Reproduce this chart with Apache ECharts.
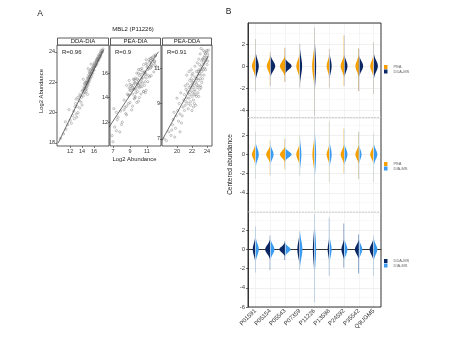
<!DOCTYPE html>
<html><head><meta charset="utf-8">
<script src="https://cdn.jsdelivr.net/npm/echarts@6/dist/echarts.min.js"></script>
<style>html,body{margin:0;padding:0;background:#fff}#c{width:451px;height:337px}</style>
</head><body><div id="c"></div>
<script>
const FONT = 'Liberation Sans, Arial, sans-serif';

// ---------- Panel A: per-sample log2 abundance of MBL2 (P11226) ----------
const ddaLog2 = [18.3,18.6,18.9,19.2,19.4,19.5,19.7,19.8,19.9,20.1,20.2,20.3,20.4,20.5,20.6,20.8,20.9,21.0,21.0,21.1,21.2,21.2,21.3,21.4,21.5,21.5,21.6,21.6,21.7,21.7,21.8,21.8,21.9,21.9,22.0,22.0,22.0,22.1,22.1,22.2,22.2,22.2,22.3,22.3,22.4,22.4,22.5,22.5,22.6,22.6,22.7,22.7,22.8,22.8,22.9,22.9,22.9,23.0,23.0,23.1,23.1,23.2,23.2,23.2,23.2,23.3,23.3,23.4,23.4,23.5,23.5,23.6,23.6,23.7,23.7,23.8,23.8,23.9,23.9,24.0,24.0,24.1,24.2,
  21.3,21.5,21.6,21.8,21.9,22.0,22.1,22.3,22.4,22.5,22.6,22.7,22.8,22.9,23.0,23.1,23.3,23.4,23.5,23.6,23.8,24.1,20.0,20.7,21.1,19.6,19.3,20.4,21.4,22.0,22.3,22.6,22.8,23.1,23.5,23.7,24.0];
const diaLog2 = [10.4,10.9,11.3,11.6,11.2,12.0,13.1,12.4,13.0,12.6,11.8,13.6,13.2,14.0,12.9,13.5,13.0,13.9,13.3,14.2,13.6,14.9,14.3,14.0,14.6,14.1,14.5,14.8,14.3,14.7,14.6,15.0,14.4,14.9,14.7,15.1,14.5,15.2,14.8,15.0,15.3,14.2,14.9,15.4,15.2,15.6,15.1,15.5,15.3,15.8,15.5,15.2,15.7,16.0,15.6,15.9,15.0,16.1,15.8,16.2,15.9,16.3,16.0,15.5,16.5,16.4,16.1,16.5,16.7,16.4,16.8,16.6,16.9,16.7,17.1,17.0,16.8,17.2,17.0,17.3,17.1,17.4,17.5,
  14.5,14.3,14.4,14.8,14.6,15.0,15.0,15.1,15.3,15.4,15.5,15.7,15.4,15.8,16.0,16.1,16.3,16.4,16.6,16.7,17.1,17.2,13.3,13.8,13.7,12.7,12.2,12.8,14.7,14.9,15.2,15.6,15.9,16.3,16.5,16.9,17.4];
const peaLog2 = [7.0,6.9,7.4,7.2,7.8,8.1,7.1,7.6,8.3,8.6,8.0,9.0,8.4,9.6,7.9,8.8,9.2,9.5,8.6,8.9,9.8,9.1,9.3,10.1,9.0,9.6,9.9,9.3,10.3,9.5,9.1,10.0,9.7,10.4,9.4,9.9,10.6,9.6,10.1,9.2,10.3,8.8,9.8,10.0,10.5,9.7,10.2,9.5,10.8,10.1,10.4,9.9,10.6,10.0,10.9,10.3,9.4,10.7,11.2,10.4,10.9,11.1,10.6,9.9,12.1,11.4,10.8,11.0,11.5,11.2,10.9,11.6,11.3,11.0,11.7,11.4,11.8,11.5,11.9,11.6,11.2,11.8,12.0,
  10.6,8.7,10.8,8.9,10.9,8.6,10.7,9.0,11.1,8.9,9.4,11.3,9.6,11.5,9.8,11.8,10.2,10.4,12.0,10.6,10.9,11.4,9.3,8.3,10.0,8.5,7.5,7.4,9.7,10.2,9.5,10.4,10.8,10.0,11.5,11.9,12.0];
const panelATitles = ['DDA-DIA', 'PEA-DIA', 'PEA-DDA'];
const panelARLabels = ['R=0.96', 'R=0.9', 'R=0.91'];
const fitDdaDia = [[10.0, 18.0], [17.6, 24.15]];
const fitPeaDia = [[6.55, 11.6], [12.35, 17.75]];
const fitPeaDda = [[18.0, 6.92], [24.2, 11.7]];
const xTicksA = [[12, 14, 16], [7, 9, 11], [20, 22, 24]];
const yTicksA = [[18, 20, 22, 24], [12, 14, 16], [7, 9, 11]];
const xRangeA = [[9.8, 18.5], [6.65, 12.65], [18.0, 24.67]];
const yRangeA = [[17.8, 24.46], [10.05, 18.3], [6.6, 12.3]];

// ---------- Panel B: centered abundance split violins ----------
const proteins = ['P01591','P05154','P05543','P07359','P11226','P13598','P24592','P35542','Q9UGM5'];
// panel 1: PEA vs DDA-MS
const p1TailLow  = [-2.3,-1.8,-1.45,-1.95,-4.5,-1.95,-1.8,-2.25,-2.55];
const p1TailHigh = [2.45,1.25,1.65,2.0,3.5,1.55,2.8,1.6,2.15];
const p1LeftWidth  = [0.23,0.23,0.34,0.23,0.16,0.18,0.23,0.23,0.23];
const p1LeftSpread = [0.45,0.4,0.4,0.5,0.9,0.45,0.45,0.45,0.45];
const p1RightWidth  = [0.23,0.34,0.45,0.16,0.11,0.16,0.23,0.29,0.29];
const p1RightSpread = [0.6,0.45,0.3,0.8,1.3,0.6,0.5,0.45,0.5];
// panel 2: PEA vs DIA-MS
const p2TailLow  = [-2.55,-2.2,-1.55,-2.2,-5.8,-2.9,-2.0,-2.55,-2.9];
const p2TailHigh = [2.35,1.45,1.65,2.0,3.9,3.45,2.7,2.35,2.2];
const p2LeftWidth  = [0.23,0.27,0.34,0.23,0.14,0.18,0.23,0.23,0.23];
const p2LeftSpread = [0.45,0.4,0.35,0.5,0.9,0.45,0.45,0.45,0.45];
const p2RightWidth  = [0.23,0.23,0.45,0.11,0.11,0.16,0.23,0.18,0.25];
const p2RightSpread = [0.6,0.5,0.3,0.9,1.4,0.7,0.55,0.5,0.5];
// panel 3: DDA-MS vs DIA-MS
const p3TailLow  = [-2.4,-2.15,-1.1,-2.15,-5.5,-2.75,-1.9,-2.5,-2.75];
const p3TailHigh = [2.4,1.45,0.85,1.9,3.7,3.3,2.7,1.55,1.45];
const p3LeftWidth  = [0.18,0.34,0.38,0.16,0.11,0.11,0.18,0.27,0.27];
const p3LeftSpread = [0.6,0.45,0.3,0.8,1.3,0.6,0.5,0.45,0.5];
const p3RightWidth  = [0.23,0.29,0.38,0.18,0.11,0.16,0.23,0.23,0.25];
const p3RightSpread = [0.6,0.5,0.3,0.9,1.4,0.7,0.55,0.5,0.5];

const COL = {'PEA': '#F5A000', 'DDA-MS': '#0B2764', 'DIA-MS': '#3A9BF0'};

const chart = echarts.init(document.getElementById('c'), null, {renderer: 'canvas'});

const grids = [], xAxes = [], yAxes = [], series = [], graphics = [];
// ---- Panel A grids ----
const aLeft = [57, 110, 162], aWidth = [52, 51, 50];
const pairs = [
  ddaLog2.map((d, i) => [diaLog2[i], d]),
  ddaLog2.map((d, i) => [peaLog2[i], diaLog2[i]]),
  ddaLog2.map((d, i) => [d, peaLog2[i]])
];
const fits = [fitDdaDia, fitPeaDia, fitPeaDda];
for (let k = 0; k < 3; k++) {
  grids.push({left: aLeft[k], top: 45, width: aWidth[k], height: 101, show: true, borderColor: '#333', borderWidth: 0.8, backgroundColor: '#fff'});
  xAxes.push({type: 'value', gridIndex: k, min: xRangeA[k][0], max: xRangeA[k][1],
    axisLine: {show: false}, splitLine: {show: false},
    axisTick: {show: true, length: 2, customValues: xTicksA[k], lineStyle: {color: '#333', width: 0.6}},
    axisLabel: {customValues: xTicksA[k], fontSize: 5.5, color: '#333', margin: 2.5, fontFamily: FONT}});
  yAxes.push({type: 'value', gridIndex: k, min: yRangeA[k][0], max: yRangeA[k][1],
    axisLine: {show: false}, splitLine: {show: false},
    axisTick: {show: true, length: 2, customValues: yTicksA[k], lineStyle: {color: '#333', width: 0.6}},
    axisLabel: {customValues: yTicksA[k], fontSize: 5.5, color: '#333', margin: 2, fontFamily: FONT}});
  series.push({type: 'scatter', xAxisIndex: k, yAxisIndex: k, data: pairs[k], symbol: 'circle', symbolSize: 2.2,
    itemStyle: {color: 'rgba(255,255,255,0)', borderColor: '#7a7a7a', borderWidth: 0.55}, silent: true, z: 2});
  series.push({type: 'line', xAxisIndex: k, yAxisIndex: k, data: fits[k], symbol: 'none', silent: true,
    lineStyle: {color: '#333', width: 0.7}, z: 3});
  graphics.push({type: 'rect', shape: {x: aLeft[k] + 0.5, y: 38, width: aWidth[k] - 1, height: 7},
    style: {fill: '#fff', stroke: '#333', lineWidth: 0.8}});
  graphics.push({type: 'text', x: aLeft[k] + aWidth[k] / 2, y: 41.7,
    style: {text: panelATitles[k], fontSize: 6, fill: '#222', align: 'center', verticalAlign: 'middle', fontFamily: FONT}});
  graphics.push({type: 'text', x: aLeft[k] + 5, y: 52.5, z: 10,
    style: {text: panelARLabels[k], fontSize: 6, fill: '#222', align: 'left', verticalAlign: 'middle', fontFamily: FONT}});
}

// ---- Panel B grids ----
const bTop = [23, 117, 212], bHeight = [95, 95, 95];
const bMin = [-4.7, -6, -6], bMax = [3.9, 3.9, 3.9];
const panelsB = [
  {lo: p1TailLow, hi: p1TailHigh, lw: p1LeftWidth, ls: p1LeftSpread, rw: p1RightWidth, rs: p1RightSpread, left: 'PEA', right: 'DDA-MS'},
  {lo: p2TailLow, hi: p2TailHigh, lw: p2LeftWidth, ls: p2LeftSpread, rw: p2RightWidth, rs: p2RightSpread, left: 'PEA', right: 'DIA-MS'},
  {lo: p3TailLow, hi: p3TailHigh, lw: p3LeftWidth, ls: p3LeftSpread, rw: p3RightWidth, rs: p3RightSpread, left: 'DDA-MS', right: 'DIA-MS'}
];
function violinItem(side) {
  return function (params, api) {
    const ci = api.value(0), lo = api.value(1), hi = api.value(2), w = api.value(3), s = api.value(4);
    const band = api.size([1, 0])[0];
    const cx = api.coord([ci, 0])[0];
    const N = 80, pts = [];
    for (let i = 0; i <= N; i++) {
      const y = hi - (hi - lo) * i / N;
      const py = api.coord([ci, y])[1];
      const hw = Math.max(w * band * Math.exp(-0.5 * (y / s) * (y / s)), 0.35);
      pts.push([cx + side * hw, py]);
    }
    pts.push([cx, api.coord([ci, lo])[1]]);
    pts.push([cx, api.coord([ci, hi])[1]]);
    return {type: 'polygon', shape: {points: pts}, style: {fill: api.visual('color')}};
  };
}
for (let k = 0; k < 3; k++) {
  const gi = 3 + k, P = panelsB[k];
  grids.push({left: 248, top: bTop[k], width: 133, height: bHeight[k]});
  xAxes.push({type: 'category', gridIndex: gi, data: proteins, boundaryGap: true,
    axisLine: {show: k === 2, lineStyle: {color: '#333', width: 1}},
    axisTick: {show: k === 2, alignWithLabel: true, length: 2, lineStyle: {color: '#333', width: 0.7}},
    axisLabel: {show: k === 2, rotate: 45, interval: 0, fontSize: 6, color: '#333', margin: 3, fontFamily: FONT},
    splitLine: {show: false}});
  const ya = {type: 'value', gridIndex: gi, min: bMin[k], max: bMax[k],
    axisLine: {show: true, lineStyle: {color: '#333', width: 1}},
    axisTick: {show: true, length: 2, lineStyle: {color: '#333', width: 0.7}},
    axisLabel: {fontSize: 6, color: '#444', margin: 3, fontFamily: FONT, showMaxLabel: false, showMinLabel: k === 2},
    splitLine: {show: true, lineStyle: {color: '#e6e6e6', width: 0.6}},
    minorTick: {show: false, splitNumber: 2},
    minorSplitLine: {show: true, lineStyle: {color: '#f3f3f3', width: 0.5}}};
  if (k === 0) { ya.splitNumber = 4; } else { ya.interval = 2; }
  if (k === 1) {
    ya.name = 'Centered abundance'; ya.nameLocation = 'middle'; ya.nameRotate = 90; ya.nameGap = 14;
    ya.nameTextStyle = {fontSize: 6.5, color: '#222', fontFamily: FONT};
  }
  yAxes.push(ya);
  series.push({type: 'scatter', xAxisIndex: gi, yAxisIndex: gi, data: [], silent: true, z: 1,
    markLine: {silent: true, symbol: 'none', label: {show: false}, animation: false,
      lineStyle: {color: '#ececec', width: 0.6, type: 'solid'},
      data: proteins.map(p => ({xAxis: p}))}});
  series.push({type: 'custom', name: P.left, xAxisIndex: gi, yAxisIndex: gi, clip: true, z: 3,
    itemStyle: {color: COL[P.left]}, renderItem: violinItem(-1), encode: {x: 0, y: [1, 2]},
    data: proteins.map((p, i) => [i, P.lo[i], P.hi[i], P.lw[i], P.ls[i]])});
  series.push({type: 'custom', name: P.right, xAxisIndex: gi, yAxisIndex: gi, clip: true, z: 3,
    itemStyle: {color: COL[P.right]}, renderItem: violinItem(1), encode: {x: 0, y: [1, 2]},
    data: proteins.map((p, i) => [i, P.lo[i], P.hi[i], P.rw[i], P.rs[i]])});
}
const legendTops = [65, 162, 259];
const legends = panelsB.map((P, k) => ({
  orient: 'vertical', left: 384, top: legendTops[k], padding: 0, itemGap: 0.5,
  itemWidth: 3.5, itemHeight: 4, icon: 'rect', selectedMode: false,
  textStyle: {fontSize: 4, color: '#666', padding: [0, 0, 0, 1], fontFamily: FONT},
  data: [P.left, P.right]
}));

graphics.push({type: 'rect', shape: {x: 248, y: 23, width: 133, height: 284}, z: 50, silent: true,
  style: {fill: 'none', stroke: '#333', lineWidth: 1}});
graphics.push({type: 'line', shape: {x1: 248, y1: 117.5, x2: 381, y2: 117.5}, z: 50,
  style: {stroke: '#c8c8c8', lineWidth: 0.8, lineDash: [2, 1]}});
graphics.push({type: 'line', shape: {x1: 248, y1: 212, x2: 381, y2: 212}, z: 50,
  style: {stroke: '#c8c8c8', lineWidth: 0.8, lineDash: [2, 1]}});
graphics.push({type: 'text', x: 40, y: 13.5, style: {text: 'A', fontSize: 8.5, fill: '#222', align: 'center', verticalAlign: 'middle', fontFamily: FONT}});
graphics.push({type: 'text', x: 228.5, y: 12, style: {text: 'B', fontSize: 8.5, fill: '#222', align: 'center', verticalAlign: 'middle', fontFamily: FONT}});
graphics.push({type: 'text', x: 133, y: 29, style: {text: 'MBL2 (P11226)', fontSize: 6, fill: '#222', align: 'center', verticalAlign: 'middle', fontFamily: FONT}});
graphics.push({type: 'text', x: 134.5, y: 159, style: {text: 'Log2 Abundance', fontSize: 5.8, fill: '#222', align: 'center', verticalAlign: 'middle', fontFamily: FONT}});
graphics.push({type: 'text', x: 41.5, y: 91, rotation: Math.PI / 2, style: {text: 'Log2 Abundance', fontSize: 5.8, fill: '#222', align: 'center', verticalAlign: 'middle', fontFamily: FONT}});

chart.setOption({
  animation: false,
  backgroundColor: '#fff',
  grid: grids, xAxis: xAxes, yAxis: yAxes, series: series,
  legend: legends,
  graphic: graphics
});
</script></body></html>
